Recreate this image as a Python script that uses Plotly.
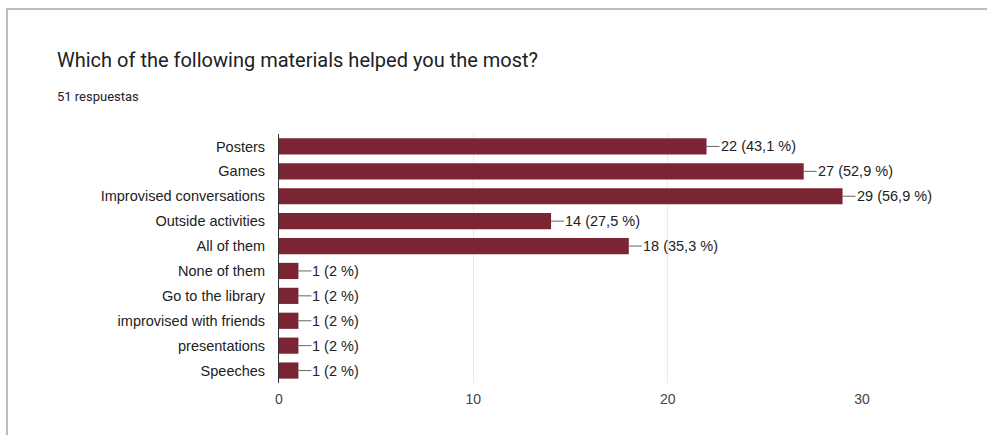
import plotly.graph_objects as go

categories = ["Posters", "Games", "Improvised conversations", "Outside activities",
              "All of them", "None of them", "Go to the library",
              "improvised with friends", "presentations", "Speeches"]
counts = [22, 27, 29, 14, 18, 1, 1, 1, 1, 1]
total = 51
x_ticks = [0, 10, 20, 30]

def pct_label(c):
    p = round(c / total * 100, 1)
    s = ("%.1f" % p).rstrip("0").rstrip(".").replace(".", ",")
    return "%d (%s %%)" % (c, s)

labels = [pct_label(c) for c in counts]

bar_color = "#7b2434"
FONT = "Liberation Sans, Arial"

W, H = 987, 435
L, R, T, B = 279, 125, 134, 52
PW, PH = W - L - R, H - T - B

def px(x):
    return (x - L) / PW

def py(y):
    return (H - B - y) / PH

fig = go.Figure()
fig.add_trace(go.Bar(
    x=counts, y=categories, orientation="h",
    marker=dict(color=bar_color, line=dict(width=0)),
    width=0.65, hoverinfo="skip",
))

for c, cat, lab in zip(counts, categories, labels):
    fig.add_annotation(
        x=c, y=cat, xref="x", yref="y", text=lab,
        showarrow=True, arrowhead=0, arrowwidth=1, arrowcolor="#666666",
        ax=13, ay=0, xanchor="left", yanchor="middle", standoff=0,
        font=dict(family=FONT, size=14.5, color="#222222"),
        borderpad=0,
    )

# card border
fig.add_shape(type="line", xref="paper", yref="paper", x0=px(6), x1=px(W + 5),
              y0=py(9), y1=py(9), line=dict(color="#bdbdbd", width=2), layer="below")
fig.add_shape(type="line", xref="paper", yref="paper", x0=px(7), x1=px(7),
              y0=py(8), y1=py(H + 5), line=dict(color="#bdbdbd", width=2), layer="below")

fig.update_layout(
    width=W, height=H,
    margin=dict(l=L, r=R, t=T, b=B),
    paper_bgcolor="white", plot_bgcolor="white",
    showlegend=False,
    font=dict(family=FONT, size=14.5, color="#222222"),
    bargap=0.35,
)
fig.update_xaxes(range=[0, 30], tickvals=x_ticks, showgrid=True, gridcolor="#ebebeb",
                 zeroline=False, showline=False, ticks="", ticklabelstandoff=6,
                 tickfont=dict(family=FONT, size=14, color="#444444"))
fig.update_yaxes(autorange="reversed", showline=True, linecolor="#333333", linewidth=1,
                 ticks="", ticklabelstandoff=10, showgrid=False,
                 tickfont=dict(family=FONT, size=14.5, color="#222222"))

fig.add_annotation(xref="paper", yref="paper", x=px(55), y=py(60), xanchor="left", yanchor="middle",
                   text="Which of the following materials helped you the most?", showarrow=False,
                   font=dict(family="Roboto", size=20, color="#202124"))
fig.add_annotation(xref="paper", yref="paper", x=px(55), y=py(97), xanchor="left", yanchor="middle",
                   text="51 respuestas", showarrow=False,
                   font=dict(family="Roboto", size=13, color="#202124"))

fig.write_html("out.html", config={"displayModeBar": False},
               post_script="document.body.style.margin='0';document.body.style.overflow='hidden';")
